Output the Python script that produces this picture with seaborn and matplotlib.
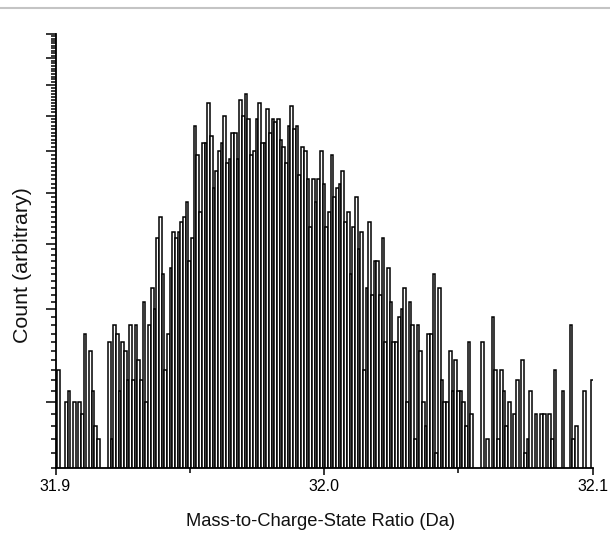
import numpy as np
import pandas as pd
import matplotlib
matplotlib.use("Agg")
import matplotlib.pyplot as plt
from matplotlib.ticker import FixedLocator, NullFormatter, FixedFormatter
from matplotlib.lines import Line2D
import seaborn as sns

# ---- data ----
mz_start = 31.900          # centre of first bin (Da)
bin_width = 0.001          # Da
counts = [
    17, 23, 0, 0, 20, 21, 0, 20, 0, 20,
    19, 27, 0, 25, 21, 18, 17, 0, 0, 0,
    26, 17, 28, 27, 21, 26, 25, 22, 28, 22,
    28, 24, 22, 31, 20, 28, 33, 30, 41, 45,
    35, 23, 27, 36, 42, 41, 42, 44, 45, 48,
    37, 41, 67, 59, 46, 62, 62, 74, 64, 51,
    55, 60, 62, 70, 57, 58, 65, 65, 58, 75,
    70, 77, 69, 59, 60, 69, 74, 62, 62, 72,
    65, 69, 68, 69, 63, 61, 57, 67, 73, 66,
    67, 54, 61, 60, 53, 43, 53, 48, 53, 60,
    52, 43, 46, 59, 49, 51, 52, 55, 44, 46,
    35, 43, 49, 39, 42, 23, 33, 44, 32, 37,
    37, 32, 41, 26, 36, 31, 26, 26, 29, 30,
    33, 20, 31, 28, 17, 28, 25, 20, 18, 27,
    27, 35, 16, 33, 22, 20, 20, 25, 21, 24,
    21, 21, 20, 18, 26, 19, 0, 0, 0, 26,
    0, 17, 0, 29, 23, 17, 23, 21, 18, 20,
    0, 19, 22, 0, 24, 16, 17, 21, 0, 19,
    0, 19, 19, 0, 19, 17, 23, 0, 0, 21,
    0, 0, 28, 17, 18, 0, 0, 21, 0, 0,
    22,
]
x_major = [31.9, 32.0, 32.1]
x_major_labels = ["31.9", "32.0", "32.1"]
x_minor = [31.95, 32.05]
y_major = [20, 30, 40, 50, 60, 70, 80, 90, 100]
y_minor = list(range(15, 100))
x_label = "Mass-to-Charge-State Ratio (Da)"
y_label = "Count (arbitrary)"

centers = np.round(mz_start + bin_width * np.arange(len(counts)), 4)
edges = [float(v) for v in np.round(np.append(centers - bin_width / 2,
                                              centers[-1] + bin_width / 2), 5)]
df = pd.DataFrame({"mz": centers, "count": np.asarray(counts, dtype=float)})

sns.set_theme(style="ticks")
plt.rcParams["font.family"] = ["Liberation Sans", "DejaVu Sans"]

fig = plt.figure(figsize=(6.10, 5.35), dpi=100)
ax = fig.add_axes([55.5 / 610, 1 - 468 / 535, (592.5 - 55.5) / 610, (468 - 34) / 535])

sns.histplot(data=df, x="mz", weights="count", bins=edges, ax=ax,
             color="white", edgecolor="black", linewidth=1.1, alpha=1.0)

ax.set_yscale("log")
ax.set_xlim(31.9, 32.1)
ax.set_ylim(15, 100)

ax.yaxis.set_major_locator(FixedLocator(y_major))
ax.yaxis.set_minor_locator(FixedLocator([v for v in y_minor if v not in y_major]))
ax.yaxis.set_major_formatter(NullFormatter())
ax.yaxis.set_minor_formatter(NullFormatter())
ax.xaxis.set_major_locator(FixedLocator(x_major))
ax.xaxis.set_major_formatter(FixedFormatter(x_major_labels))
ax.xaxis.set_minor_locator(FixedLocator(x_minor))

ax.tick_params(axis="y", which="major", direction="out", length=7, width=1.1,
               color="black")
ax.tick_params(axis="x", which="major", direction="out", length=5, width=1.1,
               color="black", labelsize=11.5, labelcolor="black", pad=3)
ax.tick_params(axis="both", which="minor", direction="out", length=3.5, width=1.1,
               color="black")

for side in ("top", "right"):
    ax.spines[side].set_visible(False)
for side in ("left", "bottom"):
    ax.spines[side].set_color("black")
    ax.spines[side].set_linewidth(1.3)

ax.set_xlabel(x_label, fontsize=13.2, color="#111111")
ax.xaxis.set_label_coords((321 - 55.5) / 537, -(513 - 468) / 434)
ax.set_ylabel(y_label, fontsize=15.4, color="#111111")
ax.yaxis.set_label_coords(-(55.5 - 32) / 537, (468 - 265) / 434)
ax.set_facecolor("white")
fig.patch.set_facecolor("white")

fig.add_artist(Line2D([0, 1], [1 - 7.5 / 535] * 2, transform=fig.transFigure,
                      color="#c4c4c4", linewidth=1.5))

fig.savefig("out.png", dpi=100)
